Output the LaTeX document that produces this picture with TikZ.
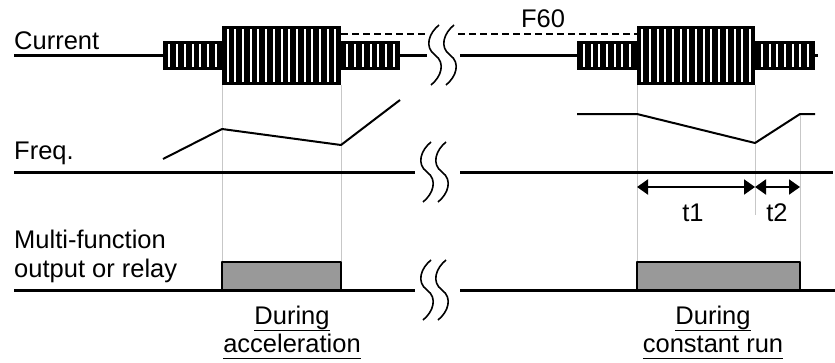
\documentclass[tikz,border=0pt]{standalone}
\usepackage{fontspec}
\setmainfont{Liberation Sans}
\usetikzlibrary{arrows.meta}
\newcommand\souligne[1]{\underline{#1\vphantom{g}}}

\tikzset{
	axe/.style={line width=3pt},
	trace/.style={line width=2pt},
	repere/.style={black!22, line width=1pt},
	relais/.style={draw, fill=black!40, line width=1.5pt},
	texte/.style={inner sep=0pt, font=\fontsize{25.5}{28}\selectfont},
	coupure/.pic={
		\draw[line width=1.6pt] (4,-30) .. controls (-6,-22) and (-11,-8) .. (0,0)
			.. controls (11,8) and (6,22) .. (-4,30);
		\draw[line width=1.6pt] (19,-30) .. controls (9,-22) and (4,-8) .. (15,0)
			.. controls (26,8) and (21,22) .. (11,30);
	}
}

\begin{document}
\begin{tikzpicture}[line cap=butt,line join=round,>={Triangle[length=11pt,width=15pt]},x=1pt,y=-1pt]
		\useasboundingbox (0,0) rectangle (835,362);
		%reperes verticaux
		\draw[repere] (222,85)--(222,262);
		\draw[repere] (341,85)--(341,262);
		\draw[repere] (637,85)--(637,262);
		\draw[repere] (755,85)--(755,215);
		\draw[repere] (800,114)--(800,262);
		%Courant
		\node[texte, anchor=base west] (courant) at (14,49) {Current};
		\draw[axe] (14,55)--(427,55);
		\draw[axe] (460,55)--(818,55);
		\draw[line width=1.3pt, dash pattern=on 7pt off 4pt] (341,34)--(427,34);
		\draw[line width=1.3pt, dash pattern=on 7pt off 4pt] (458,34)--(637,34);
		\node[texte, anchor=base] (f60) at (543,27) {F60};
		\foreach \xa/\xb/\ya/\yb in {163/222/41/70,222/341/26/85,341/400/41/70,577/637/41/70,637/755/26/85,755/815/41/70}{
			\fill (\xa,\ya) rectangle (\xb,\yb);
			\pgfmathtruncatemacro\n{(\xb-\xa-8)/7.7}
			\pgfmathsetmacro\xo{\xa+(\xb-\xa-\n*7.7)/2}
			\foreach \i in {0,...,\n}
				\draw[white, line width=2pt] (\xo+\i*7.7,\ya+3)--(\xo+\i*7.7,\yb-3);
		}
		\pic at (435,55) {coupure};
		%Frequence
		\node[texte, anchor=base west] (freq) at (14,159) {Freq.};
		\draw[axe] (14,172)--(415,172);
		\draw[axe] (460,172)--(833,172);
		\draw[trace] (163,159)--(222,129)--(341,145)--(400,100);
		\draw[trace] (577,114)--(637,114)--(755,143)--(800,114)--(815,114);
		\pic at (427,172) {coupure};
		%temps t1 et t2
		\coordinate (d1) at (637,187);
		\coordinate (d2) at (755,187);
		\coordinate (d3) at (800,187);
		\draw[trace, <->] (d1)--(d2);
		\draw[trace, <->] (d2)--(d3);
		\node[texte, anchor=base] (t1) at (693,221) {t1};
		\node[texte, anchor=base] (t2) at (777,221) {t2};
		%Relais
		\node[texte, anchor=base west] (multi) at (14,248) {Multi-function};
		\node[texte, anchor=base west] (sortie) at (14,277) {output or relay};
		\draw[axe] (14,290)--(415,290);
		\draw[axe] (460,290)--(835,290);
		\draw[relais] (222,262) rectangle (341,290);
		\draw[relais] (637,262) rectangle (800,290);
		\pic at (427,290) {coupure};
		%legendes
		\node[texte, anchor=base] (acc1) at (292,324) {\souligne{During}};
		\node[texte, anchor=base] (acc2) at (292,352) {\souligne{acceleration}};
		\node[texte, anchor=base] (cst1) at (713,324) {\souligne{During}};
		\node[texte, anchor=base] (cst2) at (713,352) {\souligne{constant run}};
		\end{tikzpicture}
\end{document}
